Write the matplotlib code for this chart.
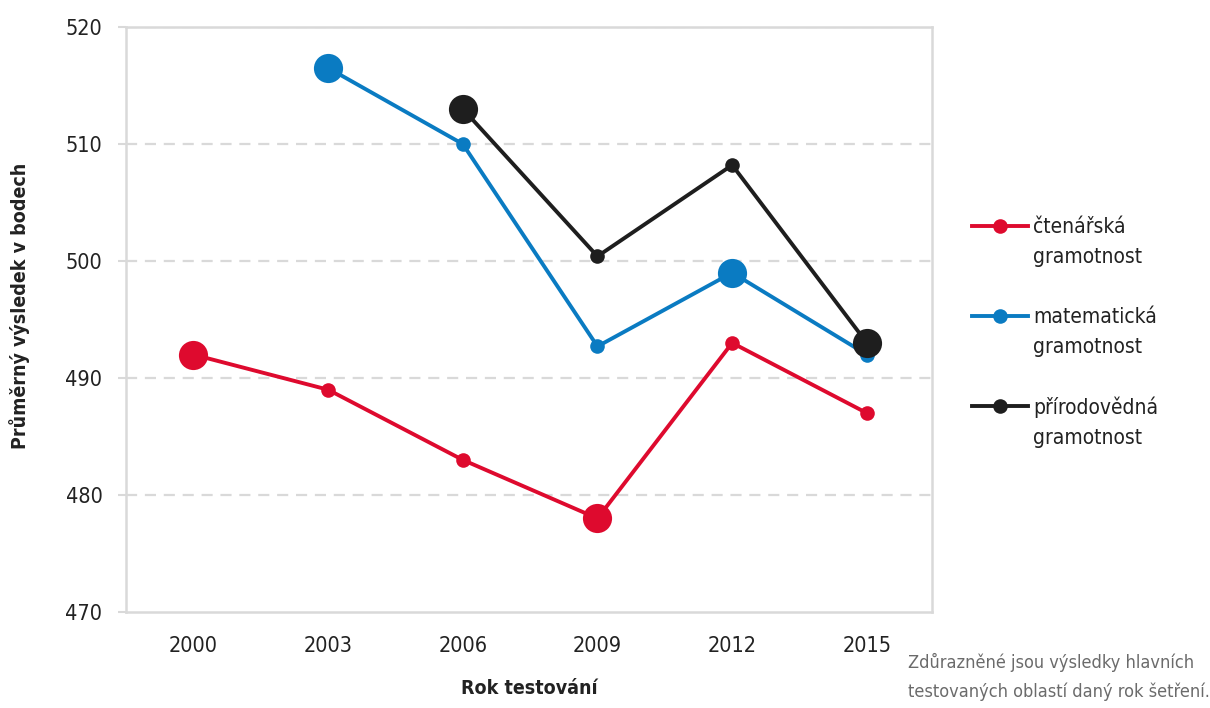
import matplotlib
matplotlib.use('Agg')
import matplotlib.pyplot as plt
from matplotlib.lines import Line2D

plt.rcParams['font.family'] = ['DejaVu Sans']
plt.rcParams['font.stretch'] = 'condensed'

# data
years = [2000, 2003, 2006, 2009, 2012, 2015]
cteni = [492, 489, 483, 478, 493, 487]
cteni_hl = [2000, 2009]
matem_years = [2003, 2006, 2009, 2012, 2015]
matem = [516.5, 510, 492.7, 499, 492]
matem_hl = [2003, 2012]
prir_years = [2006, 2009, 2012, 2015]
prir = [513, 500.4, 508.2, 493]
prir_hl = [2006, 2015]
labels = ['čtenářská\ngramotnost', 'matematická\ngramotnost', 'přírodovědná\ngramotnost']
colors = ['#DE0A2E', '#0A7BC2', '#1E1E1E']

GRID = '#d9d9d9'
TXT = '#222222'

fig = plt.figure(figsize=(12.1, 7.08), dpi=100)
ax = fig.add_axes([126/1210, 1 - 612/708, (932-126)/1210, (612-27)/708])

series = [(years, cteni, cteni_hl), (matem_years, matem, matem_hl), (prir_years, prir, prir_hl)]
for (xs, ys, hl), c in zip(series, colors):
    ax.plot(xs, ys, '-', color=c, lw=2.8, zorder=3)
    small = [(x, y) for x, y in zip(xs, ys) if x not in hl]
    big = [(x, y) for x, y in zip(xs, ys) if x in hl]
    ax.plot([p[0] for p in small], [p[1] for p in small], 'o', color=c, ms=10.5, mec='none', zorder=4)
    ax.plot([p[0] for p in big], [p[1] for p in big], 'o', color=c, ms=21, mec='none', zorder=5)

ax.set_xlim(1998.5, 2016.45)
ax.set_ylim(470, 520)
ax.set_xticks(years)
ax.set_yticks([470, 480, 490, 500, 510, 520])
ax.tick_params(axis='x', length=0, pad=17, labelsize=15.5, labelcolor=TXT)
ax.tick_params(axis='y', length=6, width=1.5, color=GRID, pad=11, labelsize=15.5, labelcolor=TXT)
for y in [480, 490, 500, 510, 520]:
    ax.axhline(y, color=GRID, lw=1.6, ls=(0, (5, 3.5)), zorder=1)
for s in ax.spines.values():
    s.set_color(GRID)
    s.set_linewidth(1.8)

fig.text(20/1210, 1 - 306/708, 'Průměrný výsledek v bodech', rotation=90, ha='center', va='center',
         fontsize=14, fontweight='bold', color=TXT)
fig.text(529/1210, 1 - 688/708, 'Rok testování', ha='center', va='center',
         fontsize=14, fontweight='bold', color=TXT)

# legend
for i, (lab, c) in enumerate(zip(labels, colors)):
    yc = 1 - (226 + 90*i)/708
    fig.add_artist(Line2D([972/1210, 1028/1210], [yc, yc], color=c, lw=2.8))
    fig.add_artist(Line2D([1000/1210], [yc], marker='o', color=c, ms=10.5, mec='none'))
    fig.text(1033/1210, yc + 9/708, lab, ha='left', va='top', fontsize=15, color=TXT, linespacing=1.62)

fig.text(908/1210, 1 - 653/708, 'Zdůrazněné jsou výsledky hlavních\ntestovaných oblastí daný rok šetření.',
         ha='left', va='top', fontsize=13, color='#6b6b6b', linespacing=1.75)

fig.savefig('out.png', dpi=100)
